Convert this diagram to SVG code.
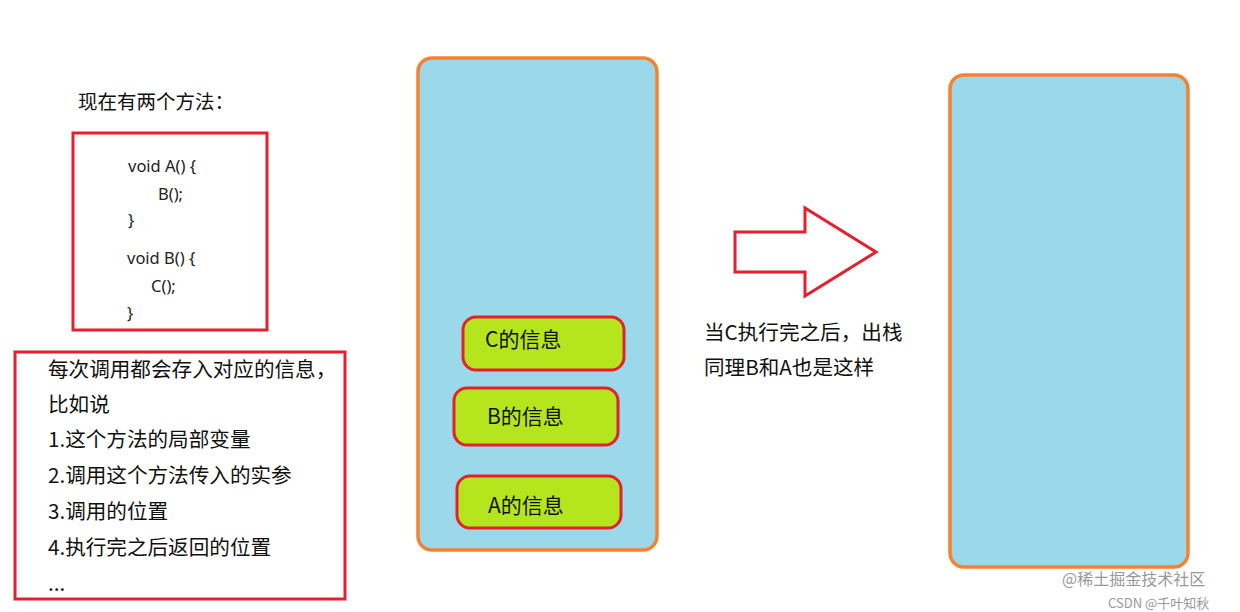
<svg xmlns="http://www.w3.org/2000/svg" width="1240" height="612" viewBox="0 0 1240 612">
<style>
.t{font-family:"Noto Sans CJK SC","Noto Sans",sans-serif;fill:#111;}
.code{font-family:"Noto Sans","Noto Sans CJK SC",sans-serif;font-size:16.5px;fill:#222;}
.lst{font-size:20.6px;}
.lbl{font-size:21px;}
.redbox{fill:none;stroke:#e5202e;stroke-width:3;}
.stack{fill:#9ad8ea;stroke:#f5822f;stroke-width:3.5;}
.frame{fill:#b5e61d;stroke:#e5202e;stroke-width:3;}
.wm{font-family:"Noto Sans CJK SC","Liberation Sans",sans-serif;fill:#999;}
</style>
<rect width="1240" height="612" fill="#fff"/>
<g id="title"><text class="t" x="78" y="109" font-size="19.5">现在有两个方法：</text></g>
<g id="code">
<rect class="redbox" x="73" y="133" width="194" height="197"/>
<text class="code" x="128" y="172">void A() {</text>
<text class="code" x="158" y="200">B();</text>
<text class="code" x="128" y="226">}</text>
<text class="code" x="127" y="264">void B() {</text>
<text class="code" x="151" y="292">C();</text>
<text class="code" x="127" y="319">}</text>
</g>
<g id="notes">
<rect class="redbox" x="15" y="352" width="330" height="247"/>
<text class="t lst" x="48" y="377">每次调用都会存入对应的信息，</text>
<text class="t lst" x="48" y="412">比如说</text>
<text class="t lst" x="48" y="447">1.这个方法的局部变量</text>
<text class="t lst" x="48" y="483">2.调用这个方法传入的实参</text>
<text class="t lst" x="48" y="519">3.调用的位置</text>
<text class="t lst" x="48" y="555">4.执行完之后返回的位置</text>
<text class="t lst" x="48" y="591">...</text>
</g>
<g id="stack-before">
<rect class="stack" x="418" y="58" width="239" height="492" rx="14"/>
</g>
<g id="frame-c">
<rect class="frame" x="463" y="317" width="161" height="53" rx="13"/>
<text class="t lbl" x="485" y="347">C的信息</text>
</g>
<g id="frame-b">
<rect class="frame" x="454" y="388" width="164" height="57" rx="13"/>
<text class="t lbl" x="487" y="424">B的信息</text>
</g>
<g id="frame-a">
<rect class="frame" x="457" y="476" width="164" height="52" rx="13"/>
<text class="t lbl" x="488" y="513">A的信息</text>
</g>
<g id="connectors">
<polygon points="735,232 805,232 805,208 876,252 805,296 805,272 735,272" fill="#fff" stroke="#e5202e" stroke-width="3" stroke-linejoin="miter"/>
</g>
<g id="caption">
<text class="t lst" x="704" y="340">当C执行完之后，出栈</text>
<text class="t lst" x="704" y="375">同理B和A也是这样</text>
</g>
<g id="stack-after">
<rect class="stack" x="950" y="75" width="238" height="492" rx="14"/>
</g>
<g id="watermark">
<text class="wm" x="1062" y="585" font-size="16">@稀土掘金技术社区</text>
<text class="wm" x="1108" y="608" font-size="13">CSDN @千叶知秋</text>
</g>
</svg>
